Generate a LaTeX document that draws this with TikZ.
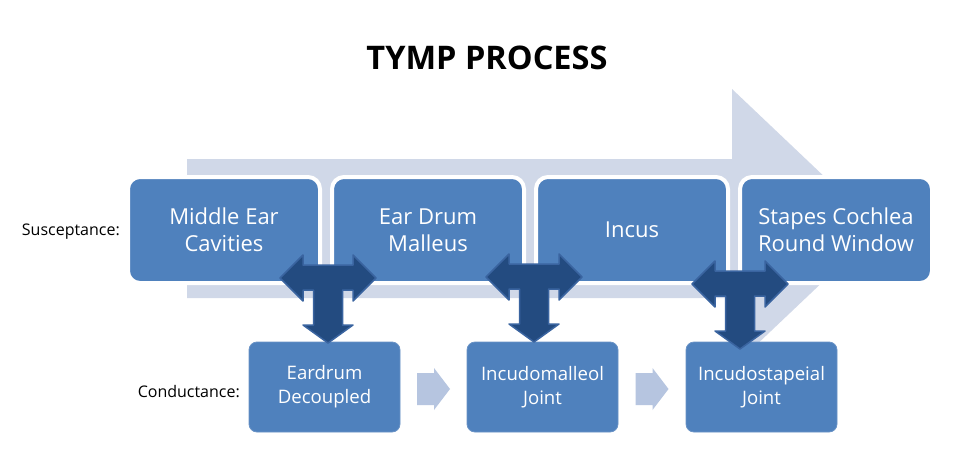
\documentclass[tikz,border=0pt]{standalone}
\usepackage{fontspec}
\setmainfont{Open Sans}
\usetikzlibrary{calc}
\definecolor{boxblue}{HTML}{4F81BD}
\definecolor{boxedge}{HTML}{6A93C6}
\definecolor{bgarrow}{HTML}{D0D8E8}
\definecolor{tfill}{HTML}{234B80}
\definecolor{tline}{HTML}{3A64A0}
\definecolor{smallarrow}{HTML}{B6C5E0}
\tikzset{
  topbox/.style={rectangle, rounded corners=12pt, fill=boxblue, draw=white, line width=4pt,
    minimum width=192pt, minimum height=106pt, text=white, align=center,
    font=\fontsize{22}{27}\selectfont},
  botbox/.style={rectangle, rounded corners=8pt, fill=boxblue, draw=boxedge, line width=0.8pt,
    minimum width=151pt, minimum height=90pt, text=white, align=center,
    font=\fontsize{18.6}{24}\selectfont},
  sidelabel/.style={anchor=east, inner sep=0pt, text=black, font=\fontsize{16}{20}\selectfont},
  tshape/.style={fill=tfill, draw=tline, line width=1.5pt, line join=round},
  smallarrowshape/.style={fill=smallarrow, draw=none},
  T arrow/.pic={
    \path[tshape] (-48,0) -- (-25,-23) -- (-25,-13) -- (25,-13) -- (25,-23) -- (48,0)
      -- (25,23) -- (25,12) -- (14.5,12) -- (14.5,47) -- (25,47) -- (0,65) -- (-25,47)
      -- (-14.5,47) -- (-14.5,12) -- (-25,12) -- (-25,23) -- cycle;
  },
  flow arrow/.pic={
    \path[smallarrowshape] (-16.5,-16) -- (0.5,-16) -- (0.5,-21) -- (16.5,0) -- (0.5,21)
      -- (0.5,16) -- (-16.5,16) -- cycle;
  }
}
\begin{document}
\begin{tikzpicture}[x=1pt,y=-1pt]
\useasboundingbox (0,0) rectangle (974,474);
\fill[white] (0,0) rectangle (974,474);

% title
\node[anchor=base, inner sep=0pt, font=\fontsize{32.5}{36}\bfseries\selectfont] (title) at (487,69) {TYMP PROCESS};

% big background arrow
\fill[bgarrow] (187,159) -- (732,159) -- (732,89) -- (879,228.5) -- (732,368) -- (732,298) -- (187,298) -- cycle;

% top boxes
\node[topbox] (mec) at (224,230) {Middle Ear\\Cavities};
\node[topbox] (edm) at (428,230) {Ear Drum\\Malleus};
\node[topbox] (inc) at (632,230) {Incus};
\node[topbox] (scr) at (836,230) {Stapes Cochlea\\Round Window};

% bottom boxes
\node[botbox] (edc) at (324.5,387) {Eardrum\\Decoupled};
\node[botbox] (imj) at (542.5,387) {Incudomalleol\\Joint};
\node[botbox] (isj) at (761.5,387) {Incudostapeial\\Joint};

% side labels
\node[sidelabel] (sus) at (120,232) {Susceptance:};
\node[sidelabel] (con) at (240,392) {Conductance:};

% small flow arrows
\pic at ($(edc.east)!0.5!(imj.west)+(0,2)$) {flow arrow};
\pic at ($(imj.east)!0.5!(isj.west)+(0,2)$) {flow arrow};

% T arrows
\coordinate (t1) at (328,278);
\coordinate (t2) at (534,277);
\coordinate (t3) at (740,284);
\pic at (t1) {T arrow};
\pic at (t2) {T arrow};
\pic at (t3) {T arrow};
\end{tikzpicture}
\end{document}
